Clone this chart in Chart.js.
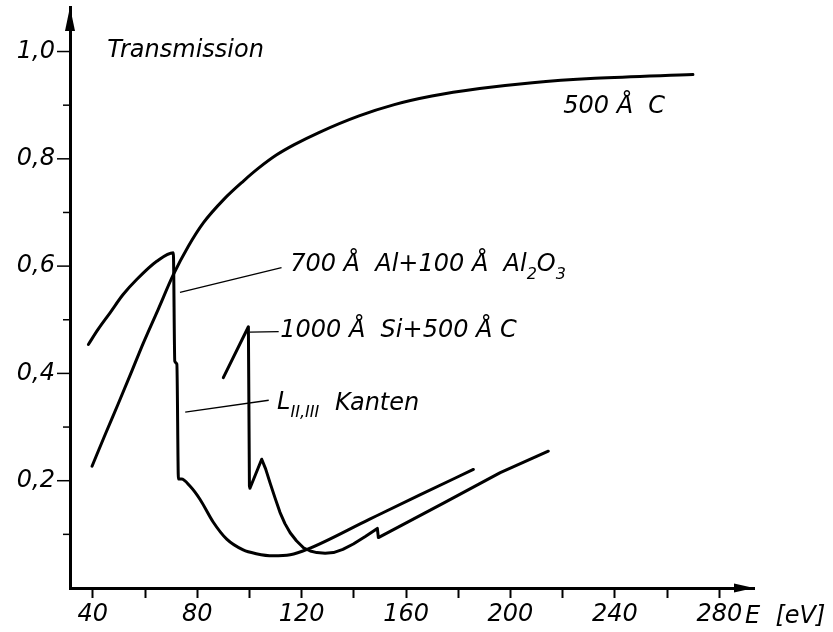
<!DOCTYPE html>
<html>
<head>
<meta charset="utf-8">
<script src="https://cdn.jsdelivr.net/npm/chart.js@4.4.1/dist/chart.umd.min.js"></script>
<style>
  html, body { margin: 0; padding: 0; background: #fff; }
  #wrap { width: 833px; height: 632px; }
</style>
</head>
<body>
<div id="wrap"><canvas id="chart" width="833" height="632"></canvas></div>
<script>
// axis ticks (E in eV, transmission 0..1)
const xTicks = [40, 60, 80, 100, 120, 140, 160, 180, 200, 220, 240, 260, 280];
const xTickLabels = ['40', '', '80', '', '120', '', '160', '', '200', '', '240', '', '280'];
const yTicks = [0.1, 0.2, 0.3, 0.4, 0.5, 0.6, 0.7, 0.8, 0.9, 1.0];
const yTickLabels = ['', '0,2', '', '0,4', '', '0,6', '', '0,8', '', '1,0'];

// 500 A C
const carbonE = [39.7, 44.9, 49.7, 54.5, 59.3, 65.1, 70.85, 76.6, 82.4, 90.1, 97.8, 103.6, 110.3, 117.0, 126.6, 142.0, 155.5, 169.9, 188.2, 208.4, 232.4, 269.9];
const carbonT = [0.227, 0.288, 0.343, 0.399, 0.456, 0.52, 0.584, 0.637, 0.681, 0.724, 0.759, 0.783, 0.807, 0.826, 0.849, 0.88, 0.901, 0.917, 0.931, 0.942, 0.95, 0.957];

// 700 A Al + 100 A Al2O3
const alE = [38.3, 42.0, 46.6, 51.6, 56.8, 64.5, 70.85, 71.4, 72.2, 72.8, 74.0, 77.2, 81.1, 86.1, 91.3, 97.6, 102.6, 109.0, 115.6, 122.1, 145.9, 165.1, 185.8];
const alT = [0.454, 0.482, 0.513, 0.547, 0.575, 0.609, 0.625, 0.423, 0.417, 0.203, 0.203, 0.19, 0.165, 0.123, 0.091, 0.071, 0.064, 0.06, 0.062, 0.072, 0.128, 0.173, 0.221];

// 1000 A Si + 500 A C
const siE = [90.0, 99.6, 100.0, 100.2, 104.7, 106.2, 107.9, 109.8, 111.7, 113.6, 115.6, 118.0, 120.7, 123.3, 125.8, 129.0, 132.2, 135.8, 139.8, 144.4, 149.0, 149.4, 174.7, 196.1, 214.5];
const siT = [0.392, 0.487, 0.19, 0.186, 0.24, 0.222, 0.196, 0.168, 0.141, 0.12, 0.103, 0.088, 0.075, 0.069, 0.066, 0.065, 0.066, 0.072, 0.082, 0.096, 0.111, 0.094, 0.159, 0.215, 0.255];

const pts = (xs, ys) => xs.map((e, i) => ({ x: e, y: ys[i] }));
const FONT = '"DejaVu Sans", sans-serif';

const notes = {
  id: 'notes',
  afterDraw(chart) {
    const { ctx, chartArea: a, scales: { x, y } } = chart;
    const px = e => x.getPixelForValue(e);
    const py = v => y.getPixelForValue(v);
    ctx.save();
    ctx.fillStyle = '#000';
    ctx.strokeStyle = '#000';

    // y tick marks, short ones between the labelled values
    ctx.lineWidth = 1.5;
    yTicks.forEach((v, i) => {
      const len = yTickLabels[i] ? 13 : 7;
      ctx.beginPath();
      ctx.moveTo(a.left - len, py(v));
      ctx.lineTo(a.left, py(v));
      ctx.stroke();
    });

    // axis arrows
    ctx.beginPath();
    ctx.moveTo(a.left, a.top);
    ctx.lineTo(a.left - 5, a.top + 24);
    ctx.lineTo(a.left + 5, a.top + 24);
    ctx.closePath();
    ctx.fill();
    ctx.beginPath();
    ctx.moveTo(a.right, a.bottom);
    ctx.lineTo(a.right - 20, a.bottom - 4.5);
    ctx.lineTo(a.right - 20, a.bottom + 4.5);
    ctx.closePath();
    ctx.fill();

    // leader lines
    ctx.lineWidth = 1.3;
    const lead = (e1, v1, e2, v2) => {
      ctx.beginPath();
      ctx.moveTo(px(e1), py(v1));
      ctx.lineTo(px(e2), py(v2));
      ctx.stroke();
    };
    lead(73.4, 0.551, 112.3, 0.597);
    lead(100.1, 0.477, 111.2, 0.478);
    lead(75.4, 0.328, 107.4, 0.350);

    ctx.textBaseline = 'alphabetic';
    ctx.textAlign = 'left';
    const big = 'italic 24px ' + FONT;
    const small = 'italic 16px ' + FONT;
    // draw a run of [text, subscript?] pieces
    const run = (parts, e, v) => {
      let cx = px(e);
      const cy = py(v);
      parts.forEach(([t, sub]) => {
        ctx.font = sub ? small : big;
        ctx.fillText(t, cx, cy + (sub ? 8 : 0));
        cx += ctx.measureText(t).width;
      });
    };

    run([['Transmission']], 45.5, 0.99);
    run([['500 Å  C']], 220.2, 0.886);
    run([['700 Å  Al+100 Å  Al'], ['2', true], ['O'], ['3', true]], 115.6, 0.59);
    run([['1000 Å  Si+500 Å C']], 111.8, 0.467);
    run([['L'], ['II,III', true]], 110.6, 0.333);
    run([['Kanten']], 132.8, 0.331);

    // x axis title beside the last tick
    ctx.font = big;
    ctx.fillText('E  [eV]', a.right - 9, a.bottom + 35);
    ctx.restore();
  }
};

const line = (data) => ({
  data,
  showLine: true,
  borderColor: '#000',
  borderWidth: 3,
  borderJoinStyle: 'round',
  borderCapStyle: 'round',
  pointRadius: 0,
  fill: false
});

const carbon = line(pts(carbonE, carbonT));
carbon.cubicInterpolationMode = 'monotone';
const al = line(pts(alE, alT));
al.cubicInterpolationMode = 'monotone';
const si = line(pts(siE, siT));
si.tension = 0;

new Chart(document.getElementById('chart').getContext('2d'), {
  type: 'scatter',
  data: { datasets: [carbon, al, si] },
  options: {
    responsive: false,
    animation: false,
    layout: { padding: { top: 7, right: 79, bottom: 0, left: 0 } },
    plugins: { legend: { display: false }, tooltip: { enabled: false } },
    scales: {
      x: {
        type: 'linear',
        min: 31.26,
        max: 293.3,
        afterBuildTicks: s => { s.ticks = xTicks.map(v => ({ value: v })); },
        afterFit: s => {
          s.height = 44;
          s.paddingLeft = 0;
          s.paddingRight = 0;
        },
        border: { display: true, color: '#000', width: 3 },
        grid: { drawOnChartArea: false, drawTicks: true, tickLength: 10, tickColor: '#000', tickWidth: 2 },
        ticks: {
          autoSkip: false,
          maxRotation: 0,
          padding: 2,
          color: '#000',
          font: { family: FONT, size: 24, style: 'italic' },
          callback: (v, i) => xTickLabels[i]
        }
      },
      y: {
        type: 'linear',
        min: 0,
        max: 1.083,
        afterBuildTicks: s => { s.ticks = yTicks.map(v => ({ value: v })); },
        afterFit: s => {
          s.width = 70;
          s.paddingTop = 0;
          s.paddingBottom = 0;
        },
        border: { display: true, color: '#000', width: 3 },
        grid: { drawOnChartArea: false, drawTicks: false },
        ticks: {
          autoSkip: false,
          padding: 15,
          color: '#000',
          font: { family: FONT, size: 24, style: 'italic' },
          callback: (v, i) => yTickLabels[i]
        }
      }
    }
  },
  plugins: [notes]
});
</script>
</body>
</html>
